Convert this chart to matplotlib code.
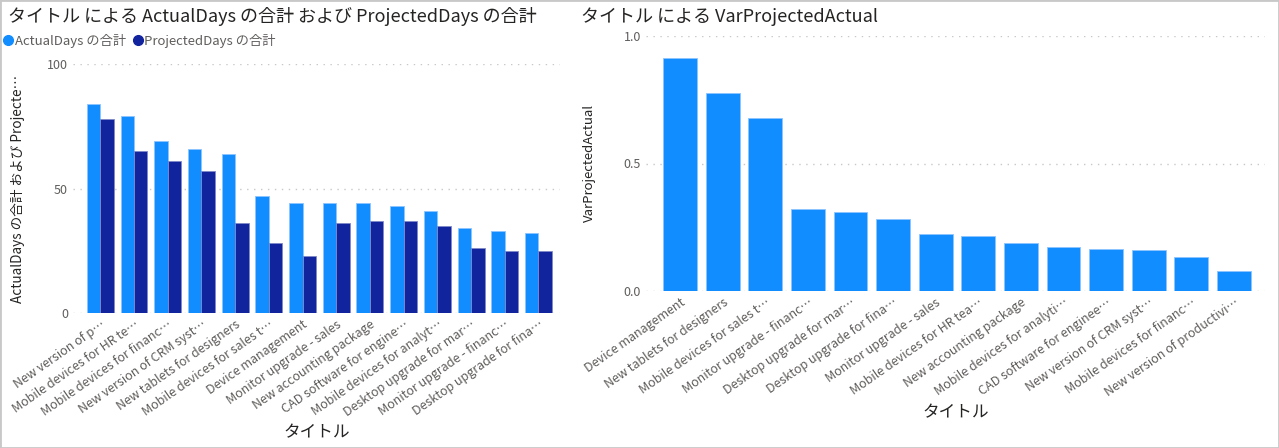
import matplotlib.pyplot as plt
import numpy as np
from matplotlib.patches import Rectangle
from matplotlib.lines import Line2D

plt.rcParams['font.family'] = ['Noto Sans CJK JP', 'DejaVu Sans']

# left chart data
titles_left = ['New version of p…', 'Mobile devices for HR te…', 'Mobile devices for financ…',
               'New version of CRM syst…', 'New tablets for designers', 'Mobile devices for sales t…',
               'Device management', 'Monitor upgrade - sales', 'New accounting package',
               'CAD software for engine…', 'Mobile devices for analyt…', 'Desktop upgrade for mar…',
               'Monitor upgrade - financ…', 'Desktop upgrade for fina…']
actual_days = [84, 79, 69, 66, 64, 47, 44, 44, 44, 43, 41, 34, 33, 32]
projected_days = [78, 65, 61, 57, 36, 28, 23, 36, 37, 37, 35, 26, 25, 25]

# right chart data
titles_right = ['Device management', 'New tablets for designers', 'Mobile devices for sales t…',
                'Monitor upgrade - financ…', 'Desktop upgrade for mar…', 'Desktop upgrade for fina…',
                'Monitor upgrade - sales', 'Mobile devices for HR tea…', 'New accounting package',
                'Mobile devices for analyti…', 'CAD software for enginee…', 'New version of CRM syst…',
                'Mobile devices for financ…', 'New version of productivi…']
var_projected_actual = [0.913, 0.778, 0.679, 0.320, 0.309, 0.281, 0.222, 0.216,
                        0.190, 0.171, 0.164, 0.160, 0.132, 0.077]

light = '#118DFF'
dark = '#12239E'
tick_col = '#605E5C'
W, H = 1279, 448

fig = plt.figure(figsize=(W / 100, H / 100), dpi=100)
fig.patches.append(Rectangle((0, 0), 1, 1, transform=fig.transFigure, fill=False,
                             edgecolor='#c8c8c8', lw=2))


def style_axis(ax):
    for s in ax.spines.values():
        s.set_visible(False)
    ax.tick_params(length=0, colors=tick_col, labelsize=9)
    ax.grid(axis='y', linestyle=(0, (1, 4)), color='#c8c8c8', lw=1)
    ax.set_axisbelow(True)


# ---- left chart ----
ax1 = fig.add_axes([73 / W, 1 - 313 / H, 487 / W, 249 / H])
x = np.arange(len(titles_left))
w = 0.4
ax1.bar(x - w / 2, actual_days, w, color=light, edgecolor='#8cc4ff', lw=0.6)
ax1.bar(x + w / 2, projected_days, w, color=dark, edgecolor='#7f8ac8', lw=0.6)
ax1.set_xlim(-0.81, 13.64)
ax1.set_ylim(0, 100)
ax1.set_yticks([0, 50, 100])
style_axis(ax1)
ax1.set_xticks(x)
ax1.set_xticklabels(titles_left, rotation=35, ha='right', rotation_mode='anchor')
ax1.set_ylabel('ActualDays の合計 および Projecte…', fontsize=9.8, color='#252423', labelpad=16)
ax1.set_xlabel('タイトル', fontsize=12, color='#252423', labelpad=4)

fig.text(8 / W, 1 - 16 / H, 'タイトル による ActualDays の合計 および ProjectedDays の合計',
         fontsize=13, color='#252423', va='center', ha='left')
handles = [Line2D([], [], marker='o', ls='', color=light, markersize=7),
           Line2D([], [], marker='o', ls='', color=dark, markersize=7)]
fig.legend(handles, ['ActualDays の合計', 'ProjectedDays の合計'], loc='center left',
           bbox_to_anchor=(3 / W, 1 - 41 / H), ncol=2, frameon=False, fontsize=9.5,
           handlelength=0.8, handletextpad=0.1, columnspacing=0.5, labelcolor='#605E5C',
           borderpad=0, borderaxespad=0)

# ---- right chart ----
ax2 = fig.add_axes([646 / W, 1 - 291 / H, 619 / W, 255 / H])
x2 = np.arange(len(titles_right))
ax2.bar(x2, var_projected_actual, 0.79, color=light, edgecolor='#8cc4ff', lw=0.6)
ax2.set_xlim(-0.8, 13.73)
ax2.set_ylim(0, 1.0)
ax2.set_yticks([0, 0.5, 1.0])
ax2.set_yticklabels(['0.0', '0.5', '1.0'])
style_axis(ax2)
ax2.set_xticks(x2)
ax2.set_xticklabels(titles_right, rotation=35, ha='right', rotation_mode='anchor')
ax2.set_ylabel('VarProjectedActual', fontsize=9.5, color='#252423', labelpad=20)
ax2.set_xlabel('タイトル', fontsize=12, color='#252423', labelpad=4)
fig.text(581 / W, 1 - 17 / H, 'タイトル による VarProjectedActual',
         fontsize=13, color='#252423', va='center', ha='left')

fig.savefig('out.png', dpi=100)
